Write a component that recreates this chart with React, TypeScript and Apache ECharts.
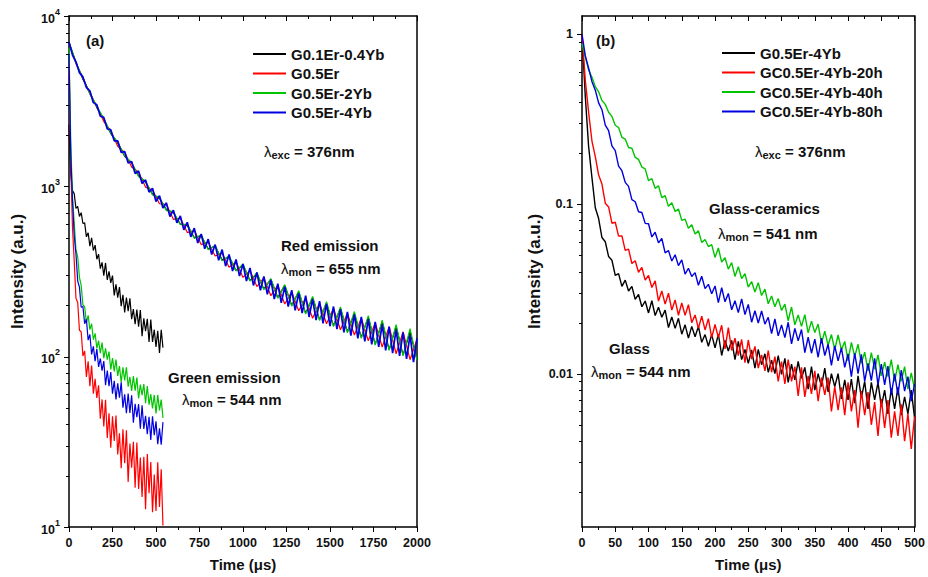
import React, { useEffect, useRef } from 'react';
import * as echarts from 'echarts';

const FONT = '"Liberation Sans", Arial, Helvetica, sans-serif';
const INK = '#111111';

// ---------- Panel (a) ----------
const A_NAMES = ['G0.1Er-0.4Yb', 'G0.5Er', 'G0.5Er-2Yb', 'G0.5Er-4Yb'];
const B_NAMES = ['G0.5Er-4Yb', 'GC0.5Er-4Yb-20h', 'GC0.5Er-4Yb-40h', 'GC0.5Er-4Yb-80h'];
const COLORS = ['#000000', '#ff0000', '#00c400', '#0000e0'];

// Red emission (655 nm), time step 40 us (black, red, green) and 20 us (blue)
const A_RED_STEP_COARSE = 40;
const A_RED_STEP_FINE = 20;
const A_RED_BLACK = [7000, 5350, 4250, 3560, 2900, 2480, 2040, 1800, 1500, 1370,
  1150, 1060, 900, 850, 730, 700, 600, 590, 500, 510,
  430, 445, 370, 385, 320, 345, 280, 305, 250, 285,
  222, 262, 200, 240, 180, 222, 165, 205, 152, 192,
  140, 178, 130, 170, 118, 160, 110, 150, 102, 140,
  96];
const A_RED_RED = [6950, 5250, 4350, 3480, 2960, 2400, 2120, 1720, 1580, 1300,
  1210, 990, 950, 790, 780, 640, 650, 535, 550, 455,
  470, 390, 405, 335, 358, 292, 320, 258, 290, 228,
  262, 204, 240, 186, 220, 168, 206, 156, 192, 144,
  180, 134, 168, 124, 158, 114, 150, 104, 140, 96,
  126];
const A_RED_GREEN = [7050, 5300, 4330, 3500, 2950, 2500, 2050, 1820, 1510, 1380,
  1140, 1070, 890, 860, 720, 710, 595, 600, 495, 520,
  425, 450, 365, 392, 318, 350, 278, 312, 247, 287,
  220, 265, 198, 244, 178, 226, 163, 210, 150, 196,
  138, 184, 128, 174, 117, 164, 109, 154, 101, 146,
  95];
const A_RED_BLUE = [7050, 5900, 5380, 4650, 4390, 3800, 3640, 3100, 3010, 2580,
  2540, 2170, 2150, 1850, 1850, 1580, 1600, 1370, 1400, 1190,
  1230, 1040, 1090, 925, 975, 815, 880, 745, 800, 665,
  725, 610, 670, 555, 615, 505, 568, 465, 525, 430,
  490, 398, 455, 368, 425, 340, 398, 318, 372, 297,
  350, 278, 332, 262, 312, 245, 296, 232, 282, 218,
  268, 207, 258, 197, 246, 187, 236, 180, 228, 171,
  218, 164, 212, 157, 204, 151, 197, 145, 190, 139,
  183, 133, 177, 128, 171, 123, 166, 118, 160, 114,
  155, 109, 150, 105, 144, 101, 139, 97, 134, 93,
  128];

// Green emission (544 nm), time step 10 us
const A_GRN_STEP = 10;
const A_GRN_BLACK = [2300, 1180, 943, 906, 743, 762, 666, 700, 605, 610,
  505, 534, 446, 498, 420, 452, 373, 400, 329, 358,
  299, 355, 282, 317, 271, 299, 229, 266, 222, 256,
  198, 231, 182, 222, 185, 220, 166, 190, 155, 189,
  150, 188, 132, 168, 141, 167, 122, 165, 122, 144,
  114, 142, 105, 144, 113];
const A_GRN_RED = [5500, 1346, 573, 365, 220, 208, 143, 140, 101, 108,
  76, 94, 67, 88.8, 60.7, 74.1, 57.3, 67.9, 43.2, 56.1,
  38.9, 55.9, 33.3, 46.5, 29.2, 44.7, 32, 45.1, 26.7, 35.5,
  22.1, 37.5, 23.7, 37, 18.4, 30.9, 22.3, 31.6, 17, 31.3,
  16.7, 25.6, 15, 25.8, 12.7, 26.8, 15.8, 24.1, 12.2, 20.3,
  12.4, 24, 13.1, 21.8, 10.2];
const A_GRN_GREEN = [6500, 1865, 864, 612, 425, 385, 292, 262, 201, 197,
  158, 175, 144, 156, 126, 137, 112, 124, 105, 121,
  98, 112, 96, 107, 84, 98, 82, 96, 77, 88,
  70.5, 86.7, 72.5, 86.6, 66.6, 76, 63, 76.9, 63.2, 75.4,
  56.8, 68.5, 59.5, 69, 53.3, 67.3, 52.3, 60.2, 49.7, 59.6,
  46.4, 59.7, 48.4, 56, 43.7];
const A_GRN_BLUE = [6000, 1549, 832, 512, 401, 278, 256, 195, 197, 156,
  166, 125, 135, 103, 115, 94, 111, 87, 97.6, 82.9,
  94.2, 68, 82.8, 67.1, 81.2, 60.6, 72.1, 56.1, 69.8, 57.4,
  70.8, 50.1, 60.1, 46.5, 60.8, 46.8, 59.3, 41, 52.9, 44.1,
  52.6, 37.7, 51.9, 37.6, 45, 35.1, 44.3, 32.4, 44.7, 34.6,
  41.7, 30.6, 37.9, 30.4, 41.3];

// ---------- Panel (b) ----------  time step 5 us, normalized intensity
const B_STEP = 5;
const B_BLACK = [1.0, 0.427, 0.217, 0.1425, 0.095, 0.082, 0.0634, 0.0599, 0.049, 0.0466,
  0.038, 0.0389, 0.0327, 0.0356, 0.0307, 0.0327, 0.0274, 0.0293, 0.0248, 0.0268,
  0.0228, 0.0269, 0.022, 0.0246, 0.0215, 0.0237, 0.0187, 0.0216, 0.0185, 0.0212,
  0.0171, 0.0194, 0.0162, 0.019, 0.0165, 0.019, 0.0153, 0.017, 0.0145, 0.017,
  0.0142, 0.0171, 0.0128, 0.0157, 0.0136, 0.0157, 0.0121, 0.0155, 0.0121, 0.0139,
  0.0115, 0.0138, 0.0108, 0.0139, 0.0113, 0.0131, 0.0102, 0.012, 0.01, 0.0128,
  0.0099, 0.0123, 0.0089, 0.0114, 0.0092, 0.0118, 0.0094, 0.0109, 0.0081, 0.011,
  0.008, 0.01, 0.0084, 0.0108, 0.0078, 0.01, 0.0084, 0.01, 0.0071, 0.0092,
  0.007, 0.0093, 0.0067, 0.0097, 0.0072, 0.009, 0.0062, 0.0089, 0.007, 0.0089,
  0.0064, 0.008, 0.0058, 0.0082, 0.0062, 0.0083, 0.0057, 0.0073, 0.0058, 0.008,
  0.0055];
const B_RED = [1.0, 0.534, 0.345, 0.234, 0.19, 0.148, 0.131, 0.101, 0.096, 0.077,
  0.078, 0.0647, 0.0648, 0.0533, 0.0542, 0.0446, 0.0463, 0.0396, 0.0423, 0.0356,
  0.0379, 0.0322, 0.0352, 0.0268, 0.0307, 0.0257, 0.0298, 0.0237, 0.0272, 0.0221,
  0.0261, 0.0221, 0.0255, 0.02, 0.0222, 0.0185, 0.0218, 0.0181, 0.0211, 0.0163,
  0.0195, 0.0163, 0.0193, 0.014, 0.0187, 0.0137, 0.0162, 0.0128, 0.0159, 0.0116,
  0.0158, 0.0122, 0.0145, 0.0108, 0.0129, 0.0104, 0.0137, 0.0102, 0.0126, 0.009,
  0.0118, 0.0087, 0.0121, 0.009, 0.011, 0.0074, 0.0109, 0.0073, 0.0097, 0.0076,
  0.0104, 0.0069, 0.0095, 0.0075, 0.0095, 0.006, 0.0084, 0.0061, 0.0083, 0.0057,
  0.0089, 0.006, 0.008, 0.0048, 0.0079, 0.0057, 0.0078, 0.005, 0.0068, 0.0043,
  0.0071, 0.0048, 0.007, 0.0042, 0.006, 0.0043, 0.0066, 0.004, 0.0058, 0.0036,
  0.0056];
const B_GREEN = [0.88, 0.734, 0.615, 0.558, 0.491, 0.458, 0.407, 0.386, 0.347, 0.328,
  0.291, 0.282, 0.247, 0.241, 0.215, 0.213, 0.188, 0.183, 0.165, 0.161,
  0.137, 0.141, 0.1236, 0.128, 0.109, 0.112, 0.0968, 0.1015, 0.0902, 0.0933,
  0.08, 0.0814, 0.0719, 0.0755, 0.0665, 0.0696, 0.0592, 0.0618, 0.0561, 0.0576,
  0.0484, 0.055, 0.0454, 0.0482, 0.0413, 0.0451, 0.0374, 0.0427, 0.0363, 0.0389,
  0.0324, 0.0349, 0.0303, 0.0344, 0.0289, 0.0315, 0.0258, 0.0287, 0.0248, 0.0277,
  0.0236, 0.0257, 0.0205, 0.0247, 0.0194, 0.0222, 0.019, 0.0223, 0.0174, 0.0204,
  0.0175, 0.0196, 0.0151, 0.0178, 0.0147, 0.017, 0.0138, 0.0169, 0.0138, 0.0155,
  0.0119, 0.0153, 0.0126, 0.0149, 0.0115, 0.0134, 0.0104, 0.0133, 0.0106, 0.0129,
  0.0097, 0.0117, 0.0096, 0.0121, 0.009, 0.0113, 0.009, 0.011, 0.0081, 0.0101,
  0.0081];
const B_BLUE = [1.0, 0.745, 0.63, 0.525, 0.468, 0.394, 0.359, 0.291, 0.27, 0.22,
  0.206, 0.167, 0.157, 0.134, 0.127, 0.106, 0.103, 0.09, 0.089, 0.0768,
  0.0764, 0.0639, 0.0681, 0.059, 0.0626, 0.0515, 0.0532, 0.0461, 0.0502, 0.0433,
  0.0468, 0.0386, 0.0418, 0.0374, 0.0394, 0.0332, 0.0375, 0.0317, 0.0336, 0.0296,
  0.0329, 0.0262, 0.0321, 0.0265, 0.0297, 0.0238, 0.0269, 0.0229, 0.0276, 0.0223,
  0.0256, 0.0201, 0.0235, 0.0199, 0.0234, 0.0196, 0.0215, 0.0172, 0.021, 0.0167,
  0.0194, 0.0163, 0.0201, 0.015, 0.0185, 0.0156, 0.0182, 0.0133, 0.0164, 0.0132,
  0.016, 0.0125, 0.0162, 0.0128, 0.0149, 0.0112, 0.0146, 0.0119, 0.0142, 0.0109,
  0.0131, 0.0096, 0.0132, 0.01, 0.013, 0.009, 0.0115, 0.0091, 0.0123, 0.0086,
  0.0114, 0.0086, 0.0111, 0.0075, 0.01, 0.0075, 0.0105, 0.0079, 0.0096, 0.0069,
  0.0087];

// axis ranges / ticks
const A_X_MAX = 2000;
const A_X_INTERVAL = 250;
const A_Y_MIN = 10;
const A_Y_MAX = 10000;
const A_Y_MAJOR = [10, 100, 1000, 10000];
const B_X_MAX = 500;
const B_X_INTERVAL = 50;
const B_Y_MIN = 0.00125;
const B_Y_MAX = 1.28;
const B_Y_MAJOR = [0.01, 0.1, 1];
const B_Y_LABELS = ['0.01', '0.1', '1'];

const pairs = (step: number, vals: number[]) => vals.map((v, i) => [i * step, v]);

const GRID_A = { left: 69, top: 16, width: 348, height: 512 };
const GRID_B = { left: 582, top: 16, width: 336, height: 512 };

function lineSeries(name: string, color: string, data: number[][], xi: number, yi: number, z: number, w = 1) {
  return {
    type: 'line',
    name,
    data,
    xAxisIndex: xi,
    yAxisIndex: yi,
    symbol: 'none',
    showSymbol: false,
    lineStyle: { color, width: w },
    itemStyle: { color },
    z,
    silent: true,
    clip: true,
  };
}

function bottomX(gridIndex: number, max: number, interval: number) {
  return {
    type: 'value', gridIndex, min: 0, max, interval, position: 'bottom',
    name: 'Time (\u03bcs)', nameLocation: 'middle', nameGap: 30,
    nameTextStyle: { fontFamily: FONT, fontSize: 15, fontWeight: 'bold', color: INK },
    axisLine: { show: true, onZero: false, lineStyle: { color: '#000', width: 1.5 } },
    axisTick: { show: true, length: 5, lineStyle: { color: '#000', width: 1 } },
    minorTick: { show: true, splitNumber: 2, length: 3, lineStyle: { color: '#000', width: 1 } },
    axisLabel: {
      fontFamily: FONT, fontSize: 12.5, fontWeight: 'bold', color: INK, margin: 9,
      formatter: (v: number) => String(v),
    },
    splitLine: { show: false },
  };
}
function topX(gridIndex: number, max: number, interval: number) {
  return {
    type: 'value', gridIndex, min: 0, max, interval, position: 'top',
    axisLine: { show: true, onZero: false, lineStyle: { color: '#000', width: 1.5 } },
    axisTick: { show: true, inside: true, length: 5, lineStyle: { color: '#000', width: 1 } },
    minorTick: { show: true, splitNumber: 2, length: 3, lineStyle: { color: '#000', width: 1 } },
    axisLabel: { show: false },
    splitLine: { show: false },
  };
}
function rightY(gridIndex: number) {
  return {
    type: 'value', gridIndex, min: 0, max: 1, position: 'right',
    axisLine: { show: true, onZero: false, lineStyle: { color: '#000', width: 1.5 } },
    axisTick: { show: false }, axisLabel: { show: false }, splitLine: { show: false },
  };
}

function sub(main: string, subText: string, rest: string) {
  return {
    text: `{l|${main}}{s|${subText}}{t|${rest}}`,
    rich: {
      l: { fontFamily: FONT, fontSize: 15, fill: INK, lineHeight: 17, verticalAlign: 'top' },
      s: { fontFamily: FONT, fontSize: 11, fontWeight: 'bold', fill: INK, lineHeight: 12, verticalAlign: 'bottom' },
      t: { fontFamily: FONT, fontSize: 15, fontWeight: 'bold', fill: INK, lineHeight: 17, verticalAlign: 'top' },
    },
  };
}
function textEl(x: number, y: number, text: string) {
  return {
    type: 'text', x, y, silent: true, z: 50,
    style: { text, fill: INK, font: `bold 15px ${FONT}`, align: 'left', verticalAlign: 'middle' },
  };
}
function richEl(x: number, y: number, r: { text: string; rich: any }) {
  return {
    type: 'text', x, y, silent: true, z: 50,
    style: { text: r.text, rich: r.rich, fill: INK, align: 'left', verticalAlign: 'middle' },
  };
}

const ANNOTATIONS = [
  textEl(86, 40, '(a)'),
  textEl(596, 40, '(b)'),
  richEl(264, 152, sub('\u03bb', 'exc', ' = 376nm')),
  richEl(755, 152, sub('\u03bb', 'exc', ' = 376nm')),
  textEl(281, 245, 'Red emission'),
  richEl(281, 269, sub('\u03bb', 'mon', ' = 655 nm')),
  textEl(168, 377, 'Green emission'),
  richEl(182, 400, sub('\u03bb', 'mon', ' = 544 nm')),
  textEl(709, 208, 'Glass-ceramics'),
  richEl(718, 234, sub('\u03bb', 'mon', ' = 541 nm')),
  textEl(609, 348, 'Glass'),
  richEl(591, 372, sub('\u03bb', 'mon', ' = 544 nm')),
];

function buildOption() {
  const series: any[] = [];
  const aRed = [
    pairs(A_RED_STEP_COARSE, A_RED_BLACK),
    pairs(A_RED_STEP_COARSE, A_RED_RED),
    pairs(A_RED_STEP_COARSE, A_RED_GREEN),
    pairs(A_RED_STEP_FINE, A_RED_BLUE),
  ];
  const aGrn = [A_GRN_BLACK, A_GRN_RED, A_GRN_GREEN, A_GRN_BLUE].map((v) => pairs(A_GRN_STEP, v));
  const bAll = [B_BLACK, B_RED, B_GREEN, B_BLUE].map((v) => pairs(B_STEP, v));
  for (let k = 0; k < 4; k++) series.push(lineSeries('a:' + A_NAMES[k], COLORS[k], aRed[k], 0, 0, 2 + k, k === 3 ? 1.7 : 1.2));
  for (let k = 0; k < 4; k++) series.push(lineSeries('a:' + A_NAMES[k], COLORS[k], aGrn[k], 0, 0, 2 + k, 1.2));
  for (let k = 0; k < 4; k++) series.push(lineSeries('b:' + B_NAMES[k], COLORS[k], bAll[k], 2, 2, 2 + k, 1.4));

  const legendA = A_NAMES.map((n, k) => ({ name: 'a:' + n, itemStyle: { color: COLORS[k] } }));
  const legendB = B_NAMES.map((n, k) => ({ name: 'b:' + n, itemStyle: { color: COLORS[k] } }));
  const legendCommon = {
    orient: 'vertical', padding: 0, icon: 'rect', itemWidth: 33, itemHeight: 2, itemGap: 4.5,
    selectedMode: false,
    formatter: (n: string) => n.slice(2),
    textStyle: { fontFamily: FONT, fontSize: 15, fontWeight: 'bold', color: INK },
  };

  return {
    animation: false,
    backgroundColor: '#ffffff',
    grid: [
      { ...GRID_A, containLabel: false },
      { ...GRID_B, containLabel: false },
    ],
    legend: [
      { ...legendCommon, left: 253, top: 46.5, data: legendA },
      { ...legendCommon, left: 722, top: 45.5, data: legendB },
    ],
    xAxis: [
      bottomX(0, A_X_MAX, A_X_INTERVAL),
      topX(0, A_X_MAX, A_X_INTERVAL),
      bottomX(1, B_X_MAX, B_X_INTERVAL),
      topX(1, B_X_MAX, B_X_INTERVAL),
    ],
    yAxis: [
      {
        type: 'log', logBase: 10, gridIndex: 0, min: A_Y_MIN, max: A_Y_MAX, position: 'left',
        name: 'Intensity (a.u.)', nameLocation: 'middle', nameGap: 43,
        nameTextStyle: { fontFamily: FONT, fontSize: 17, fontWeight: 'bold', color: INK },
        axisLine: { show: true, onZero: false, lineStyle: { color: '#000', width: 1.5 } },
        axisTick: { show: false },
        splitLine: { show: false },
        axisLabel: {
          margin: 9,
          formatter: (v: number) => `{b|10}{s|${Math.round(Math.log10(v))}}`,
          rich: {
            b: { fontFamily: FONT, fontSize: 12.5, fontWeight: 'bold', color: INK, lineHeight: 18, verticalAlign: 'bottom' },
            s: { fontFamily: FONT, fontSize: 9, fontWeight: 'bold', color: INK, lineHeight: 10, verticalAlign: 'top' },
          },
        },
      },
      rightY(0),
      {
        type: 'log', logBase: 10, gridIndex: 1, min: B_Y_MIN, max: B_Y_MAX, position: 'left',
        name: 'Intensity (a.u.)', nameLocation: 'middle', nameGap: 39,
        nameTextStyle: { fontFamily: FONT, fontSize: 17, fontWeight: 'bold', color: INK },
        axisLine: { show: true, onZero: false, lineStyle: { color: '#000', width: 1.5 } },
        axisTick: { show: false },
        splitLine: { show: false },
        axisLabel: {
          margin: 9, showMinLabel: false, showMaxLabel: false,
          fontFamily: FONT, fontSize: 12.5, fontWeight: 'bold', color: INK,
          formatter: (v: number) => {
            for (let i = 0; i < B_Y_MAJOR.length; i++) {
              if (Math.abs(Math.log10(v) - Math.log10(B_Y_MAJOR[i])) < 0.01) return B_Y_LABELS[i];
            }
            return '';
          },
        },
      },
      rightY(1),
    ],
    series,
  };
}

export default function App() {
  const ref = useRef<HTMLDivElement>(null);
  useEffect(() => {
    if (!ref.current) return;
    const chart = echarts.init(ref.current, null, { renderer: 'svg' });
    chart.setOption(buildOption() as any);

    const ticks: any[] = [];
    const addTicks = (yAxisIndex: number, x: number, majors: number[], lo: number, hi: number) => {
      const push = (v: number, len: number) => {
        const y = chart.convertToPixel({ yAxisIndex } as any, v) as unknown as number;
        if (typeof y !== 'number' || isNaN(y)) return;
        const yy = Math.round(y) + 0.5;
        ticks.push({
          type: 'line', silent: true, z: 40,
          shape: { x1: x - len, y1: yy, x2: x, y2: yy },
          style: { stroke: '#000', lineWidth: 1 },
        });
      };
      majors.forEach((m) => push(m, 5));
      for (let d = Math.floor(Math.log10(lo)); d < Math.ceil(Math.log10(hi)); d++) {
        for (let k = 2; k <= 9; k++) {
          const v = k * Math.pow(10, d);
          if (v > lo && v < hi) push(v, 3);
        }
      }
    };
    addTicks(0, GRID_A.left, A_Y_MAJOR, A_Y_MIN, A_Y_MAX);
    addTicks(2, GRID_B.left, B_Y_MAJOR, B_Y_MIN, B_Y_MAX);
    chart.setOption({ graphic: [...ANNOTATIONS, ...ticks] } as any);

    return () => chart.dispose();
  }, []);
  return (
    <div
      ref={ref}
      style={{ position: 'fixed', left: 0, top: 0, width: 928, height: 577, background: '#fff' }}
    />
  );
}
